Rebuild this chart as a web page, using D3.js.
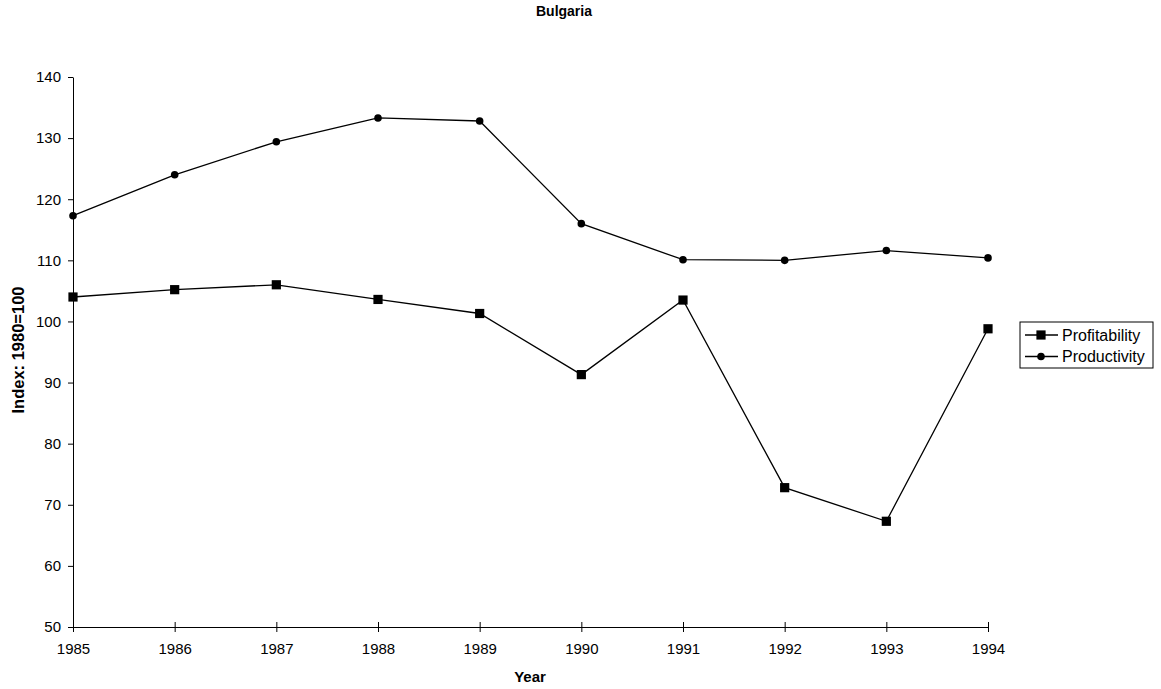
<!DOCTYPE html>
<html>
<head>
<meta charset="utf-8">
<script src="https://cdn.jsdelivr.net/npm/d3@7"></script>
<style>
  html, body { margin: 0; padding: 0; background: #fff; }
  svg { display: block; font-family: "Liberation Sans", Arial, sans-serif; }
</style>
</head>
<body>
<svg id="chart" width="1161" height="689"></svg>
<script>
// Bulgaria: profitability and productivity indices (1980 = 100)
const years = [1985, 1986, 1987, 1988, 1989, 1990, 1991, 1992, 1993, 1994];
const profitability = [104.0, 105.2, 106.0, 103.6, 101.3, 91.3, 103.5, 72.8, 67.3, 98.8];
const productivity = [117.3, 124.0, 129.4, 133.3, 132.8, 116.0, 110.1, 110.0, 111.6, 110.4];
const yTicks = [50, 60, 70, 80, 90, 100, 110, 120, 130, 140];

(function () {
const svg = d3.select("#chart");
const plot = { left: 73, right: 988, top: 77, bottom: 627 };
const tickFont = 15;

const x = d3.scaleLinear().domain([1985, 1994]).range([plot.left, plot.right]);
const y = d3.scaleLinear().domain([50, 140]).range([plot.bottom, plot.top]);

// Axes
const xAxis = svg.append("g")
  .attr("transform", `translate(0,${plot.bottom})`)
  .call(d3.axisBottom(x).tickValues(years).tickFormat(d3.format("d")).tickSize(5).tickSizeOuter(0));
const yAxis = svg.append("g")
  .attr("transform", `translate(${plot.left},0)`)
  .call(d3.axisLeft(y).tickValues(yTicks).tickSize(5).tickSizeOuter(0));

xAxis.selectAll(".tick line").attr("y1", -5).attr("y2", 5);
yAxis.selectAll(".tick line").attr("x1", -5).attr("x2", 0);
[xAxis, yAxis].forEach(a => {
  a.select(".domain").attr("stroke", "#000").attr("stroke-width", 1);
  a.selectAll(".tick line").attr("stroke", "#000");
  a.selectAll("text").attr("font-size", tickFont).attr("fill", "#000")
    .attr("font-family", "Liberation Sans, Arial, sans-serif");
});
xAxis.selectAll("text").attr("dy", "0.71em").attr("y", 16);
yAxis.selectAll("text").attr("x", -12);

// Series
const line = d3.line().x((d, i) => x(years[i])).y(d => y(d));

function drawSeries(values, shape) {
  const g = svg.append("g");
  g.append("path").datum(values)
    .attr("d", line).attr("fill", "none").attr("stroke", "#000").attr("stroke-width", 1.3);
  if (shape === "square") {
    g.selectAll("rect").data(values).join("rect")
      .attr("x", (d, i) => x(years[i]) - 4.6).attr("y", d => y(d) - 4.6)
      .attr("width", 9.2).attr("height", 9.2).attr("fill", "#000");
  } else {
    g.selectAll("circle").data(values).join("circle")
      .attr("cx", (d, i) => x(years[i])).attr("cy", d => y(d))
      .attr("r", 3.8).attr("fill", "#000");
  }
}
drawSeries(productivity, "circle");
drawSeries(profitability, "square");

// Titles
svg.append("text").attr("x", 564).attr("y", 16).attr("text-anchor", "middle")
  .attr("font-size", 14).attr("font-weight", "bold").text("Bulgaria");
svg.append("text").attr("x", 530).attr("y", 682).attr("text-anchor", "middle")
  .attr("font-size", 15).attr("font-weight", "bold").text("Year");
svg.append("text").attr("transform", "translate(24,350) rotate(-90)")
  .attr("text-anchor", "middle").attr("font-size", 16.5).attr("font-weight", "bold")
  .text("Index: 1980=100");

// Legend
const legend = svg.append("g").attr("transform", "translate(1020,322)");
legend.append("rect").attr("width", 133).attr("height", 46)
  .attr("fill", "#fff").attr("stroke", "#000").attr("stroke-width", 1);
const items = [["Profitability", "square"], ["Productivity", "circle"]];
items.forEach(([name, shape], i) => {
  const cy = 13 + i * 21.5;
  legend.append("line").attr("x1", 5).attr("x2", 38).attr("y1", cy).attr("y2", cy)
    .attr("stroke", "#000").attr("stroke-width", 1.3);
  if (shape === "square") {
    legend.append("rect").attr("x", 21 - 4.6).attr("y", cy - 4.6).attr("width", 9.2).attr("height", 9.2).attr("fill", "#000");
  } else {
    legend.append("circle").attr("cx", 21).attr("cy", cy).attr("r", 3.8).attr("fill", "#000");
  }
  legend.append("text").attr("x", 42).attr("y", cy).attr("dy", "0.35em")
    .attr("font-size", 16).text(name);
});
})();
</script>
</body>
</html>
